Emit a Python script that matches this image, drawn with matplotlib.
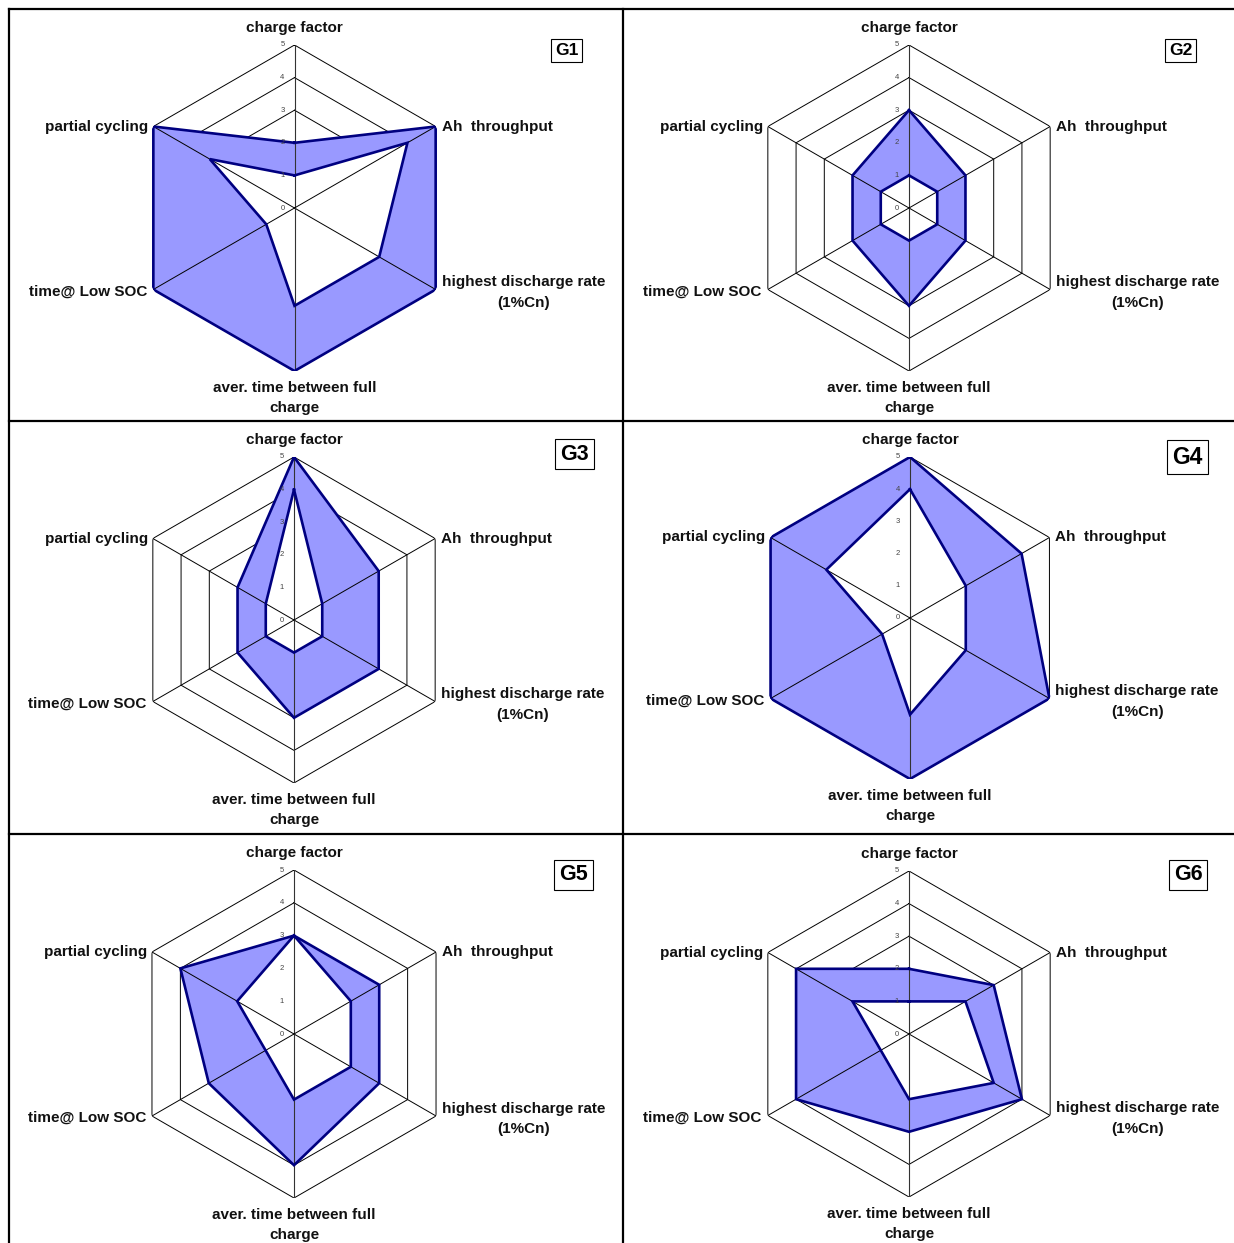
import numpy as np
import matplotlib
matplotlib.use("Agg")
import matplotlib.pyplot as plt
from matplotlib.lines import Line2D

W, H, DPI = 1234, 1243, 100
plt.rcParams["font.family"] = ["Liberation Sans", "DejaVu Sans"]

# Axis categories (clockwise from the top) and radial scale
categories = [
    "charge factor",
    "Ah  throughput",
    "highest discharge rate\n(1%Cn)",
    "aver. time between full\ncharge",
    "time@ Low SOC",
    "partial cycling",
]
scale_ticks = [0, 1, 2, 3, 4, 5]

# Lower and upper bound of each group's operating profile
g1_low = [1, 4, 3, 3, 1, 3]
g1_high = [2, 5, 5, 5, 5, 5]
g2_low = [1, 1, 1, 1, 1, 1]
g2_high = [3, 2, 2, 3, 2, 2]
g3_low = [4, 1, 1, 1, 1, 1]
g3_high = [5, 3, 3, 3, 2, 2]
g4_low = [4, 2, 2, 3, 1, 3]
g4_high = [5, 4, 5, 5, 5, 5]
g5_low = [3, 2, 2, 2, 1, 2]
g5_high = [3, 3, 3, 4, 3, 4]
g6_low = [1, 2, 3, 2, 1, 2]
g6_high = [2, 3, 4, 3, 4, 4]

group_names = ["G1", "G2", "G3", "G4", "G5", "G6"]
lows = [g1_low, g2_low, g3_low, g4_low, g5_low, g6_low]
highs = [g1_high, g2_high, g3_high, g4_high, g5_high, g6_high]

# Panel geometry in pixels: centre x, centre y, outer radius
geometry = [
    (294.5, 208, 163),
    (909, 208, 163),
    (294, 620, 163),
    (910, 618, 161),
    (294, 1034, 164),
    (909, 1034, 163),
]
# Group tag: centre x, centre y, font size
tags = [
    (566.5, 50.5, 12.5),
    (1180.5, 50.5, 12.5),
    (574.5, 454, 15.5),
    (1187.5, 457, 16.5),
    (573.5, 875, 15.5),
    (1188, 875, 15.5),
]

FILL = "#9999ff"
EDGE = "#000080"

fig = plt.figure(figsize=(W / DPI, H / DPI), dpi=DPI)
fig.patch.set_facecolor("white")

# Table frame around the six panels
def px_line(x0, y0, x1, y1):
    fig.add_artist(Line2D([x0 / W, x1 / W], [1 - y0 / H, 1 - y1 / H],
                          color="black", lw=1.6, transform=fig.transFigure))

px_line(9, 9, W, 9)
px_line(9, 421, W, 421)
px_line(9, 834, W, 834)
px_line(9, 9, 9, H)
px_line(623, 9, 623, H)

theta = np.deg2rad(np.arange(len(categories)) * 60.0)


def closed(v):
    v = np.asarray(v, dtype=float)
    return np.r_[v, v[:1]]


label_style = [
    dict(xytext=(0, 17), ha="center", va="center"),
    dict(xytext=(6, 0), ha="left", va="center"),
    dict(xytext=(6, -3), ha="left", va="center", multialignment="center"),
    dict(xytext=(0, -10), ha="center", va="top", multialignment="center"),
    dict(xytext=(-6, -2), ha="right", va="center"),
    dict(xytext=(-5, 0), ha="right", va="center"),
]

for name, low, high, (cx, cy, R), (tx, ty, tfs) in zip(group_names, lows, highs, geometry, tags):
    ax = fig.add_axes([(cx - R) / W, 1 - (cy + R) / H, 2 * R / W, 2 * R / H],
                      projection="polar")
    ax.set_theta_zero_location("N")
    ax.set_theta_direction(-1)
    ax.set_ylim(0, 5)
    ax.grid(False)
    ax.set_xticks([])
    ax.set_yticks([])
    ax.spines["polar"].set_visible(False)
    ax.patch.set_alpha(0)

    tc = closed(theta)
    for r in scale_ticks[1:]:
        ax.plot(tc, [r] * len(tc), color="black", lw=0.7, zorder=1)

    ax.fill(tc, closed(high), color=FILL, lw=0, zorder=2)
    ax.fill(tc, closed(low), color="white", lw=0, zorder=3)

    for i, t in enumerate(theta):
        ax.plot([t, t], [0, 5], color="#333333" if i % 3 == 0 else "black",
                lw=0.8 if i % 3 == 0 else 0.7, zorder=4)

    ax.plot(tc, closed(high), color=EDGE, lw=1.9, zorder=5, solid_joinstyle="miter")
    ax.plot(tc, closed(low), color=EDGE, lw=1.9, zorder=5, solid_joinstyle="miter")

    for r in scale_ticks:
        ax.annotate(str(r), xy=(0, r), xytext=(-12, 0), textcoords="offset pixels",
                    ha="center", va="center", fontsize=5.5, color="#444444",
                    zorder=6, annotation_clip=False)

    for t, lab, st in zip(theta, categories, label_style):
        st = dict(st)
        off = st.pop("xytext")
        ax.annotate(lab, xy=(t, 5), xytext=off, textcoords="offset pixels",
                    fontsize=11, fontweight="bold", color="#111111",
                    linespacing=1.55, annotation_clip=False, **st)

    fig.text(tx / W, 1 - ty / H, name, ha="center", va="center",
             fontsize=tfs, fontweight="bold",
             bbox=dict(boxstyle="square,pad=0.22", fc="white", ec="black", lw=0.8))

fig.savefig("out.png", dpi=DPI)
